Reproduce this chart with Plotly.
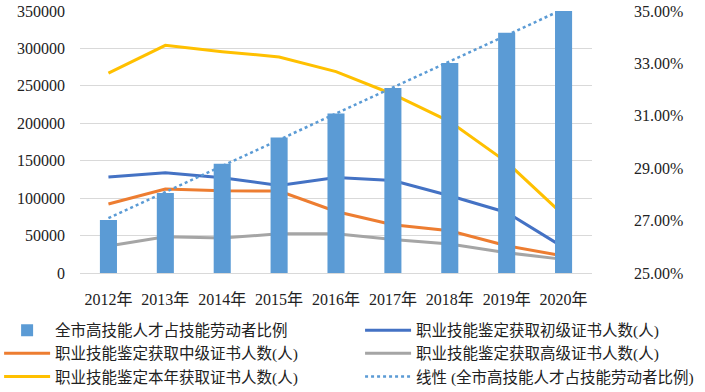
import numpy as np
import plotly.graph_objects as go

years = ["2012年", "2013年", "2014年", "2015年", "2016年", "2017年", "2018年", "2019年", "2020年"]
ratio_pct = [27.02, 28.05, 29.17, 30.17, 31.09, 32.06, 33.02, 34.17, 35.0]
primary = [128100, 133800, 127200, 116900, 127600, 123600, 103200, 80900, 34200]
intermediate = [92100, 112100, 109800, 109400, 82200, 64400, 56400, 36400, 22700]
senior = [36000, 48400, 46700, 52400, 52400, 44800, 38700, 27100, 18200]
total_year = [266900, 304200, 295700, 288600, 269000, 238800, 202300, 148100, 77400]

left_ticks = [0, 50000, 100000, 150000, 200000, 250000, 300000, 350000]
right_ticks = [25, 27, 29, 31, 33, 35]

idx = np.arange(len(years))
coef = np.polyfit(idx, ratio_pct, 1)
trend = np.polyval(coef, idx)

serif = "Liberation Serif"
leg_font = dict(size=15.5, family="Liberation Serif, Noto Sans CJK SC", color="#222222")
tick_font = dict(size=16, family="Liberation Serif, Noto Sans CJK SC", color="#222222")

fig = go.Figure()
fig.add_trace(go.Bar(x=years, y=ratio_pct, yaxis="y2", name="全市高技能人才占技能劳动者比例",
                     marker=dict(color="#5B9BD5", line=dict(width=0)), width=0.3,
                     legend="legend", legendgroup="a"))
fig.add_trace(go.Scatter(x=years, y=primary, mode="lines", name="职业技能鉴定获取初级证书人数(人)",
                         line=dict(color="#4472C4", width=3), legend="legend2", legendgroup="b"))
fig.add_trace(go.Scatter(x=years, y=intermediate, mode="lines", name="职业技能鉴定获取中级证书人数(人)",
                         line=dict(color="#ED7D31", width=3), legend="legend", legendgroup="c"))
fig.add_trace(go.Scatter(x=years, y=senior, mode="lines", name="职业技能鉴定获取高级证书人数(人)",
                         line=dict(color="#A5A5A5", width=3), legend="legend2", legendgroup="d"))
fig.add_trace(go.Scatter(x=years, y=total_year, mode="lines", name="职业技能鉴定本年获取证书人数(人)",
                         line=dict(color="#FFC000", width=3), legend="legend", legendgroup="e"))
fig.add_trace(go.Scatter(x=years, y=trend, yaxis="y2", mode="lines",
                         name="线性 (全市高技能人才占技能劳动者比例)",
                         line=dict(color="#5B9BD5", width=2.5, dash="dot"),
                         legend="legend2", legendgroup="f"))

fig.update_layout(
    width=705, height=392,
    margin=dict(l=80, r=113, t=11, b=119, autoexpand=False),
    paper_bgcolor="white", plot_bgcolor="white",
    font=dict(family=serif, size=16, color="#222222"),
    showlegend=True,
    legend=dict(orientation="v", x=-0.158, y=-0.155, xanchor="left", yanchor="top",
                itemwidth=46, tracegroupgap=0, font=leg_font, traceorder="grouped"),
    legend2=dict(orientation="v", x=0.547, y=-0.155, xanchor="left", yanchor="top",
                 itemwidth=46, tracegroupgap=0, font=leg_font, traceorder="grouped"),
    xaxis=dict(range=[-0.5, 8.5], showgrid=False, showline=True, linecolor="#d9d9d9",
               linewidth=1, ticks="", ticklabelstandoff=12, tickfont=tick_font),
    yaxis=dict(range=[0, 350000], tickvals=left_ticks, ticktext=[str(v) for v in left_ticks],
               showgrid=True, gridcolor="#d9d9d9", gridwidth=1, zeroline=False,
               ticks="", ticklabelstandoff=14, tickfont=tick_font),
    yaxis2=dict(range=[25, 35], overlaying="y", side="right", tickvals=right_ticks,
                ticktext=[f"{v:.2f}%" for v in right_ticks], showgrid=False, zeroline=False,
                ticks="", ticklabelstandoff=41, tickfont=tick_font),
    bargap=0.7,
)

fig.write_html("out.html", config={"displayModeBar": False},
               post_script="document.body.style.margin='0';")
